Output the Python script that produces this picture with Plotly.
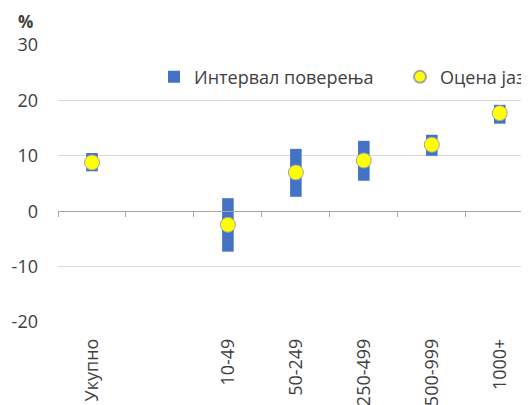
import plotly.graph_objects as go

categories = ["Укупно", " ", "10-49", "50-249", "250-499", "500-999", "1000+"]
groups = ["Укупно", "10-49", "50-249", "250-499", "500-999", "1000+"]
ci_low = [7.2, -7.3, 2.6, 5.5, 10.0, 15.8]
ci_high = [10.5, 2.35, 11.25, 12.7, 13.8, 19.2]
estimate = [8.8, -2.45, 7.0, 9.15, 12.0, 17.7]
y_ticks = [-20, -10, 0, 10, 20, 30]
y_tick_labels = ["-20", "-10", "0", "10", "20", "30"]
boundaries = [-0.5, 0.5, 1.5, 2.5, 3.5, 4.5, 5.5, 6.5]

FONT = "Open Sans"
TXT = "#404040"
XR = [-0.5, 6.43]
L = 50  # left margin (page has an 8px body margin)

fig = go.Figure()
fig.add_trace(go.Bar(
    x=groups, base=ci_low, y=[h - l for h, l in zip(ci_high, ci_low)],
    width=0.17, marker=dict(color="#4472C4", line=dict(width=0)),
    name="Интервал поверења", legend="legend", hoverinfo="skip",
))
fig.add_trace(go.Scatter(
    x=groups, y=estimate, mode="markers",
    marker=dict(size=15, color="#FFFF00", line=dict(color="#A5A5A5", width=1)),
    name="Оцена јаза", legend="legend2",
))
# empty trace so the zero-level category axis (tick marks) is drawn
fig.add_trace(go.Scatter(x=[None], y=[None], xaxis="x2", showlegend=False,
                         hoverinfo="skip", mode="markers"))

fig.update_layout(
    width=521, height=397,
    margin=dict(l=L, r=0, t=37, b=83, autoexpand=False),
    paper_bgcolor="white", plot_bgcolor="white",
    font=dict(family=FONT, color=TXT),
    xaxis=dict(type="category", categoryorder="array", categoryarray=categories,
               range=XR, tickangle=-90, showgrid=False, showline=False,
               ticks="", zeroline=False, tickfont=dict(size=18, color=TXT),
               ticklabelstandoff=12),
    xaxis2=dict(overlaying="x", anchor="free", position=0.4, type="linear",
                range=XR, tickmode="array", tickvals=boundaries, ticks="outside",
                ticklen=5, tickcolor="#A6A6A6", tickwidth=1, showticklabels=False,
                showline=True, linecolor="#A6A6A6", linewidth=1, showgrid=False,
                zeroline=False),
    yaxis=dict(range=[-20, 30], tickmode="array", tickvals=y_ticks,
               ticktext=y_tick_labels,
               gridcolor="#D9D9D9", gridwidth=1, zeroline=False, showline=False,
               tickfont=dict(size=18, color=TXT), ticklabelstandoff=19),
    legend=dict(orientation="h", x=(146 - L) / 471, xanchor="left",
                y=0.884, yanchor="middle", font=dict(size=18, color=TXT),
                bgcolor="rgba(0,0,0,0)", itemsizing="constant"),
    legend2=dict(orientation="h", x=(392 - L) / 471, xanchor="left",
                 y=0.884, yanchor="middle", font=dict(size=18, color=TXT),
                 bgcolor="rgba(0,0,0,0)", itemsizing="constant"),
    annotations=[dict(text="<b>%</b>", xref="paper", yref="paper", x=0, y=1,
                      xanchor="center", yanchor="middle", xshift=-33, yshift=24,
                      showarrow=False, font=dict(size=17, color=TXT))],
    showlegend=True,
)

fig.write_html("out.html")
